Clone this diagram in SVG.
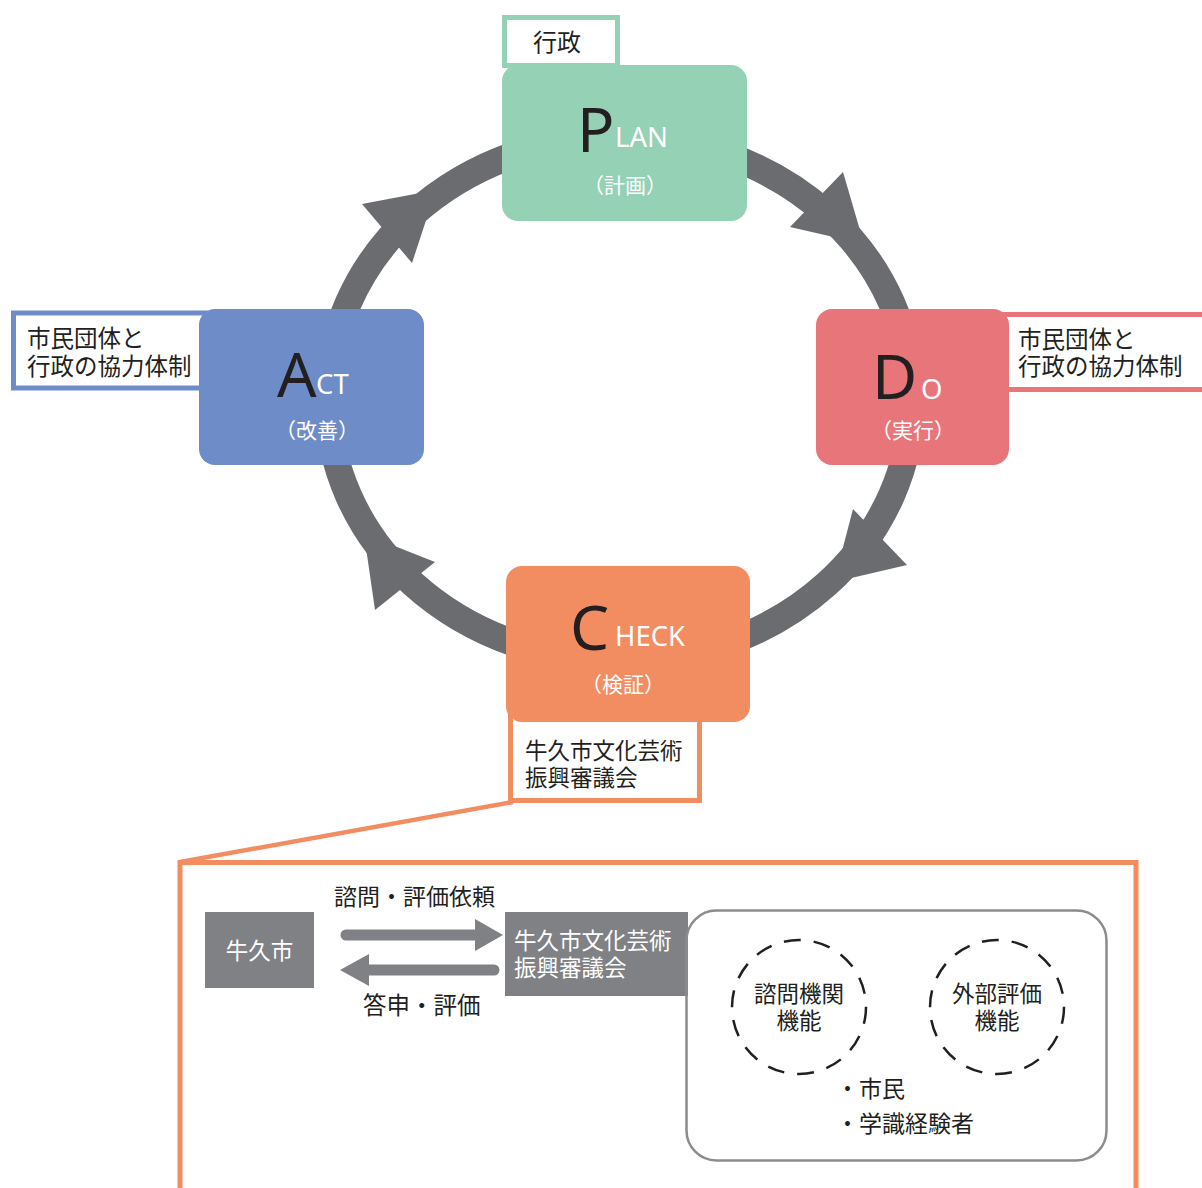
<svg xmlns="http://www.w3.org/2000/svg" width="1202" height="1188" viewBox="0 0 1202 1188">
<style>
.jp{font-family:"Noto Sans CJK JP","Noto Sans",sans-serif;}
.lat{font-family:"Noto Sans","Open Sans",sans-serif;}
.dark{fill:#231f20;}
.wh{fill:#ffffff;}
.big{font-size:62px;}
.sc{font-size:27.5px;}
.sub{font-size:21px;}
.lbl{font-size:23.5px;}
.lbl2{font-size:22.5px;}
.ring{fill:none;stroke:#6b6c70;stroke-width:27;}
.ah{fill:#6b6c70;}
.gbox{fill:#808184;}
</style>
<rect width="1202" height="1188" fill="#ffffff"/>
<g id="connectors">
<ellipse class="ring" cx="620" cy="399" rx="292" ry="262"/>
<polygon class="ah" points="843,172 864,244 790,227"/>
<polygon class="ah" points="907,565 834,582 853,509"/>
<polygon class="ah" points="375,610 364,534 435,562"/>
<polygon class="ah" points="362,204 436,190 412,263"/>
<polyline points="513,802 180,862" fill="none" stroke="#f28c61" stroke-width="4.5"/>
<line x1="346" y1="935" x2="480" y2="935" stroke="#808184" stroke-width="11" stroke-linecap="round"/>
<polygon points="475,919 503,935 475,951" fill="#808184"/>
<line x1="494" y1="970" x2="365" y2="970" stroke="#808184" stroke-width="11" stroke-linecap="round"/>
<polygon points="369,954 340,970 369,986" fill="#808184"/>
</g>
<g id="plan-label">
<rect x="504.5" y="17.5" width="113" height="48" fill="#ffffff" stroke="#95d1b5" stroke-width="5"/>
<text class="jp dark" x="557" y="51" font-size="24" text-anchor="middle">行政</text>
</g>
<g id="plan">
<rect x="502" y="65" width="245" height="156" rx="16" fill="#95d1b5"/>
<text class="lat dark big" x="577" y="152">P</text>
<text class="lat wh sc" x="615" y="147">LAN</text>
<text class="jp wh sub" x="625" y="193" text-anchor="middle">（計画）</text>
</g>
<g id="do-label">
<rect x="1004" y="314.5" width="205" height="75" fill="#ffffff" stroke="#e8757a" stroke-width="5"/>
<text class="jp dark lbl" x="1018" y="348">市民団体と</text>
<text class="jp dark lbl" x="1018" y="375">行政の協力体制</text>
</g>
<g id="do">
<rect x="816" y="309" width="193" height="156" rx="16" fill="#e8757a"/>
<text class="lat dark big" x="872" y="399">D</text>
<text class="lat wh sc" x="921" y="399">O</text>
<text class="jp wh sub" x="913" y="438" text-anchor="middle">（実行）</text>
</g>
<g id="act-label">
<rect x="13.5" y="313" width="192" height="75" fill="#ffffff" stroke="#6e8cc7" stroke-width="5"/>
<text class="jp dark lbl" x="27" y="347">市民団体と</text>
<text class="jp dark lbl" x="27" y="375">行政の協力体制</text>
</g>
<g id="act">
<rect x="199" y="309" width="225" height="156" rx="16" fill="#6e8cc7"/>
<text class="lat dark big" x="277" y="397">A</text>
<text class="lat wh sc" x="316" y="394">CT</text>
<text class="jp wh sub" x="317" y="438" text-anchor="middle">（改善）</text>
</g>
<g id="check-label">
<rect x="510.5" y="714" width="189" height="86.5" fill="#ffffff" stroke="#f28c61" stroke-width="5"/>
<text class="jp dark lbl2" x="525" y="759">牛久市文化芸術</text>
<text class="jp dark lbl2" x="525" y="786">振興審議会</text>
</g>
<g id="check">
<rect x="506" y="566" width="244" height="156" rx="16" fill="#f28c61"/>
<text class="lat dark big" x="570" y="650">C</text>
<text class="lat wh sc" x="615" y="646">HECK</text>
<text class="jp wh sub" x="623" y="692" text-anchor="middle">（検証）</text>
</g>
<g id="detail-frame">
<path d="M180,1190 V862.5 H1136 V1190" fill="none" stroke="#f28c61" stroke-width="5"/>
</g>
<g id="ushiku-city">
<rect class="gbox" x="205" y="912" width="109" height="76"/>
<text class="jp wh" x="259.5" y="959" font-size="22.5" text-anchor="middle">牛久市</text>
</g>
<g id="request-label">
<text class="jp dark" x="334" y="905" font-size="23">諮問・評価依頼</text>
</g>
<g id="answer-label">
<text class="jp dark" x="363" y="1014" font-size="23.5">答申・評価</text>
</g>
<g id="council">
<rect class="gbox" x="505" y="912" width="183" height="84"/>
<text class="jp wh lbl2" x="514" y="949">牛久市文化芸術</text>
<text class="jp wh lbl2" x="514" y="976">振興審議会</text>
</g>
<g id="members">
<rect x="686.5" y="910.5" width="420" height="250" rx="30" fill="none" stroke="#8c8c8e" stroke-width="2.5"/>
<text class="jp dark" x="836" y="1097" font-size="23">・市民</text>
<text class="jp dark" x="836" y="1132" font-size="23">・学識経験者</text>
</g>
<g id="advisory">
<circle cx="799" cy="1007" r="67" fill="none" stroke="#231f20" stroke-width="2.5" stroke-dasharray="17 13"/>
<text class="jp dark lbl2" x="799" y="1002" text-anchor="middle">諮問機関</text>
<text class="jp dark lbl2" x="799" y="1029" text-anchor="middle">機能</text>
</g>
<g id="external">
<circle cx="997" cy="1007" r="67" fill="none" stroke="#231f20" stroke-width="2.5" stroke-dasharray="17 13"/>
<text class="jp dark lbl2" x="997" y="1002" text-anchor="middle">外部評価</text>
<text class="jp dark lbl2" x="997" y="1029" text-anchor="middle">機能</text>
</g>
</svg>
